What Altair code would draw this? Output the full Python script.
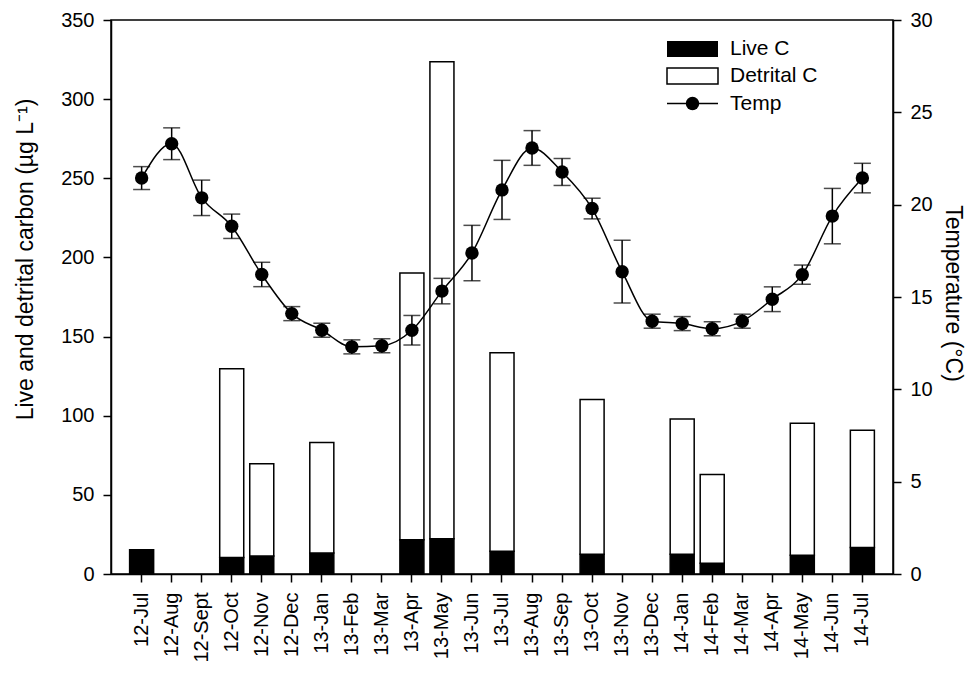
import altair as alt
import pandas as pd

# ---- data ----
months = ["12-Jul", "12-Aug", "12-Sept", "12-Oct", "12-Nov", "12-Dec", "13-Jan", "13-Feb",
          "13-Mar", "13-Apr", "13-May", "13-Jun", "13-Jul", "13-Aug", "13-Sep", "13-Oct",
          "13-Nov", "13-Dec", "14-Jan", "14-Feb", "14-Mar", "14-Apr", "14-May", "14-Jun", "14-Jul"]

bar_months = ["12-Jul", "12-Oct", "12-Nov", "13-Jan", "13-Apr", "13-May", "13-Jul",
              "13-Oct", "14-Jan", "14-Feb", "14-May", "14-Jul"]
live_c = [15.3, 10.5, 11.4, 13.2, 21.7, 22.2, 14.3, 12.4, 12.4, 6.8, 11.8, 16.8]
total_c = [15.3, 129.7, 69.7, 83.0, 190.1, 323.6, 139.7, 110.3, 97.9, 62.9, 95.2, 90.8]

temp = [21.44, 23.3, 20.37, 18.83, 16.22, 14.1, 13.2, 12.3, 12.36, 13.2, 15.32, 17.38, 20.8,
        23.07, 21.77, 19.79, 16.37, 13.69, 13.56, 13.28, 13.69, 14.88, 16.21, 19.38, 21.44]
temp_err = [0.62, 0.86, 0.96, 0.66, 0.66, 0.38, 0.38, 0.38, 0.38, 0.8, 0.69, 1.5, 1.6,
            0.94, 0.73, 0.56, 1.7, 0.38, 0.38, 0.38, 0.38, 0.67, 0.52, 1.5, 0.8]

series = ["Live C", "Detrital C"]
FONT = "Liberation Sans"

# ---- tables ----
rows = []
for m, lv, tot in zip(bar_months, live_c, total_c):
    rows.append({"month": m, "component": "Live C", "value": lv, "ord": 0})
    det = round(tot - lv, 2)
    if det > 0:
        rows.append({"month": m, "component": "Detrital C", "value": det, "ord": 1})
bars_df = pd.DataFrame(rows)

temp_df = pd.DataFrame({
    "month": months,
    "temp": temp,
    "lo": [t - e for t, e in zip(temp, temp_err)],
    "hi": [t + e for t, e in zip(temp, temp_err)],
})

x_scale = alt.Scale(domain=months, paddingInner=0.2, paddingOuter=0.62)
x_axis = alt.Axis(labelAngle=-90, labelPadding=10, title=None, bandPosition=0.5,
                  labelFontSize=20)
X = alt.X("month:N", sort=months, scale=x_scale, axis=x_axis)

# ---- bars (left axis) ----
bars = alt.Chart(bars_df).mark_bar(stroke="black", strokeWidth=1.5).encode(
    x=X,
    y=alt.Y("value:Q", stack="zero",
            scale=alt.Scale(domain=[0, 350], nice=False),
            axis=alt.Axis(values=list(range(0, 351, 50)), orient="left",
                          title="Live and detrital carbon (µg L⁻¹)",
                          titleX=-79, titleY=239, titleAngle=-90,
                          titleAlign="center", titleBaseline="alphabetic",
                          labelPadding=9)),
    fill=alt.Fill("component:N", scale=alt.Scale(domain=series, range=["black", "white"]),
                  legend=None),
    order=alt.Order("ord:Q"),
)

# ---- temperature (right axis) ----
ty_scale = alt.Scale(domain=[0, 30], nice=False)
t_axis = alt.Axis(values=list(range(0, 31, 5)), orient="right",
                  title="Temperature (°C)",
                  titleX=52, titleY=273, titleAngle=90,
                  titleAlign="center", titleBaseline="alphabetic",
                  labelPadding=9)
base_t = alt.Chart(temp_df)
line = base_t.mark_line(interpolate="monotone", color="black", strokeWidth=1.5).encode(
    x=X, y=alt.Y("temp:Q", scale=ty_scale, axis=t_axis))
err = base_t.mark_rule(color="black", strokeWidth=1.5).encode(
    x=X, y=alt.Y("lo:Q", scale=ty_scale, axis=t_axis), y2="hi:Q")
cap_hi = base_t.mark_tick(orient="horizontal", size=17, thickness=1.5, color="black").encode(
    x=X, y=alt.Y("hi:Q", scale=ty_scale, axis=t_axis))
cap_lo = base_t.mark_tick(orient="horizontal", size=17, thickness=1.5, color="black").encode(
    x=X, y=alt.Y("lo:Q", scale=ty_scale, axis=t_axis))
pts = base_t.mark_point(filled=True, size=180, color="black", opacity=1).encode(
    x=X, y=alt.Y("temp:Q", scale=ty_scale, axis=t_axis))

temp_layer = alt.layer(line, err, cap_hi, cap_lo, pts)

# ---- manual legend (inside plot area) ----
one = pd.DataFrame({"k": [0]})
leg = alt.Chart(one)
leg_live = leg.mark_rect(color="black").encode(
    x=alt.value(556), x2=alt.value(607), y=alt.value(21), y2=alt.value(37))
leg_det = leg.mark_rect(fill="white", stroke="black", strokeWidth=1.5).encode(
    x=alt.value(556), x2=alt.value(607), y=alt.value(48), y2=alt.value(64))
leg_line = leg.mark_rule(color="black", strokeWidth=1.5).encode(
    x=alt.value(556), x2=alt.value(607), y=alt.value(83.5))
leg_pt = leg.mark_point(filled=True, size=180, color="black", opacity=1).encode(
    x=alt.value(581.5), y=alt.value(83.5))
leg_txt = []
for lab, yy in zip(["Live C", "Detrital C", "Temp"], [29, 56, 83.5]):
    leg_txt.append(leg.mark_text(align="left", baseline="middle", fontSize=21, font=FONT,
                                 color="black").encode(
        x=alt.value(619), y=alt.value(yy), text=alt.value(lab)))

legend = alt.layer(leg_live, leg_det, leg_line, leg_pt, *leg_txt)

chart = alt.layer(bars, temp_layer, legend).resolve_scale(y="independent").properties(
    width=782, height=554,
    autosize=alt.AutoSizeParams(type="none"),
    padding={"left": 103, "top": 12, "right": 73, "bottom": 91},
).configure_view(
    stroke="black", strokeWidth=1.5
).configure_axis(
    grid=False, domainColor="black", domainWidth=1.5, tickColor="black", tickWidth=1.5,
    tickSize=8, labelColor="black", labelFont=FONT, labelFontSize=20,
    titleFont=FONT, titleFontSize=23, titleFontWeight="normal", titleColor="black",
)

chart.save("out.html", embed_options={"renderer": "svg", "actions": False})
